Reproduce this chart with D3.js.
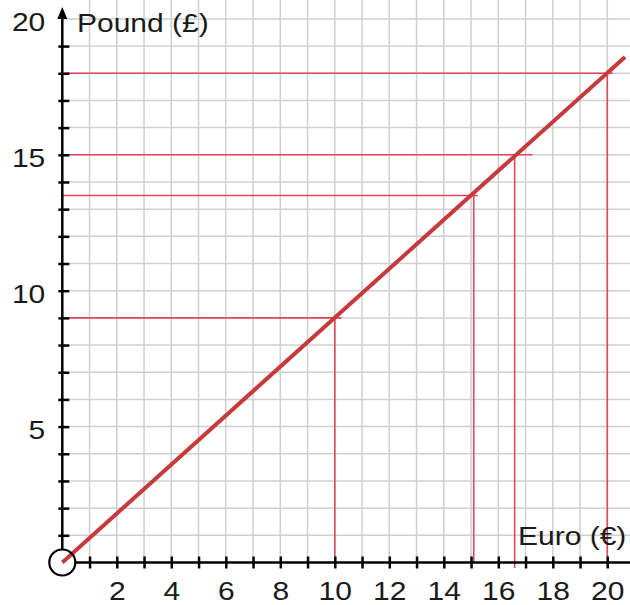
<!DOCTYPE html>
<html>
<head>
<meta charset="utf-8">
<script src="https://cdn.jsdelivr.net/npm/d3@7"></script>
<style>
  body { margin: 0; background: #fff; }
  svg { display: block; font-family: "Liberation Sans", Arial, sans-serif; }
</style>
</head>
<body>
<script>
// conversion line: euro -> pound (0.9)
const lineStart = [0, 0];
const lineEnd = [20.65, 18.6];
// read-off guides
const euroMarks = [10, 15.1, 16.6, 20];
const poundMarks = [9, 13.5, 15, 18];
const guideRight = [10.25, 15.25, 17.25, 20.2]; // how far the horizontal guide runs
const guideBottom = [0, 0, -0.2, -0.2];
// axes
const xTicks = d3.range(1, 21);
const xTickLabels = [2, 4, 6, 8, 10, 12, 14, 16, 18, 20];
const yTicks = d3.range(1, 20);
const yTickLabels = [5, 10, 15, 20];
const gridX = d3.range(1, 21);
const gridY = d3.range(1, 21);

const width = 630, height = 605;
const fontSize = '25px', stretch = 'scale(1.2,1)'; // original text is a bit wide

const x = d3.scaleLinear().domain([0, 20]).range([62.3, 607.3]);
const y = d3.scaleLinear().domain([0, 20]).range([562.5, 18.9]);

const svg = d3.select('body').append('svg')
    .attr('width', width)
    .attr('height', height)
    .attr('viewBox', [0, 0, width, height]);

// grid
const grid = svg.append('g').attr('stroke', '#cfcfcf').attr('stroke-width', 1.5);
grid.selectAll('.gx').data(gridX).join('line')
    .attr('x1', d => x(d)).attr('x2', d => x(d))
    .attr('y1', y(0)).attr('y2', 0);
grid.selectAll('.gy').data(gridY).join('line')
    .attr('y1', d => y(d)).attr('y2', d => y(d))
    .attr('x1', x(0)).attr('x2', width);

// red guides
const guides = svg.append('g').attr('stroke', '#de4a5a').attr('stroke-width', 1.6);
guides.selectAll('.h').data(poundMarks).join('line')
    .attr('x1', x(0)).attr('x2', (d, i) => x(guideRight[i]))
    .attr('y1', d => y(d)).attr('y2', d => y(d));
guides.selectAll('.v').data(euroMarks).join('line')
    .attr('x1', d => x(d)).attr('x2', d => x(d))
    .attr('y1', (d, i) => y(poundMarks[i])).attr('y2', (d, i) => y(guideBottom[i]));

// conversion line
svg.append('line')
    .attr('x1', x(lineStart[0])).attr('y1', y(lineStart[1]))
    .attr('x2', x(lineEnd[0])).attr('y2', y(lineEnd[1]))
    .attr('stroke', '#c63a3c').attr('stroke-width', 4);

// x axis
const gx = svg.append('g')
    .attr('transform', `translate(0,${y(0)})`)
    .call(d3.axisBottom(x).tickValues(xTicks).tickSize(6)
      .tickFormat(d => xTickLabels.includes(d) ? d : ''));
gx.select('.domain').remove();
gx.selectAll('.tick line').attr('y1', -6).attr('stroke', '#000').attr('stroke-width', 2.5);
gx.selectAll('.tick text')
    .attr('y', 38).attr('dy', 0)
    .attr('transform', stretch)
    .attr('fill', '#1a1a1a').style('font-size', fontSize).style('font-family', '"Liberation Sans", Arial, sans-serif');
gx.append('line')
    .attr('x1', x(0) + 13).attr('x2', width)
    .attr('stroke', '#000').attr('stroke-width', 2.5);

// y axis
const gy = svg.append('g')
    .attr('transform', `translate(${x(0)},0)`)
    .call(d3.axisLeft(y).tickValues(yTicks).tickSize(4).tickFormat(''));
gy.select('.domain').remove();
gy.selectAll('.tick line').attr('x2', 7).attr('x1', -4).attr('stroke', '#000').attr('stroke-width', 2.5);
gy.selectAll('.lab').data(yTickLabels).join('text')
    .attr('transform', d => `translate(-17,${y(d) + 12}) ${stretch}`)
    .attr('text-anchor', 'end')
    .attr('fill', '#1a1a1a').style('font-size', fontSize)
    .text(d => d);
gy.append('line')
    .attr('y1', y(0) - 13).attr('y2', 16)
    .attr('stroke', '#000').attr('stroke-width', 2.5);
gy.append('path')
    .attr('d', 'M0,7 L-5,19 L5,19 Z')
    .attr('fill', '#000');

// origin circle
svg.append('circle')
    .attr('cx', x(0)).attr('cy', y(0)).attr('r', 13)
    .attr('fill', 'none').attr('stroke', '#000').attr('stroke-width', 2.2);

// axis titles
svg.append('text')
    .attr('transform', `translate(77,32) ${stretch}`)
    .attr('fill', '#1a1a1a').style('font-size', fontSize)
    .text('Pound (£)');
svg.append('text')
    .attr('transform', `translate(518,545) ${stretch}`)
    .attr('fill', '#1a1a1a').style('font-size', fontSize)
    .text('Euro (€)');
</script>
</body>
</html>
